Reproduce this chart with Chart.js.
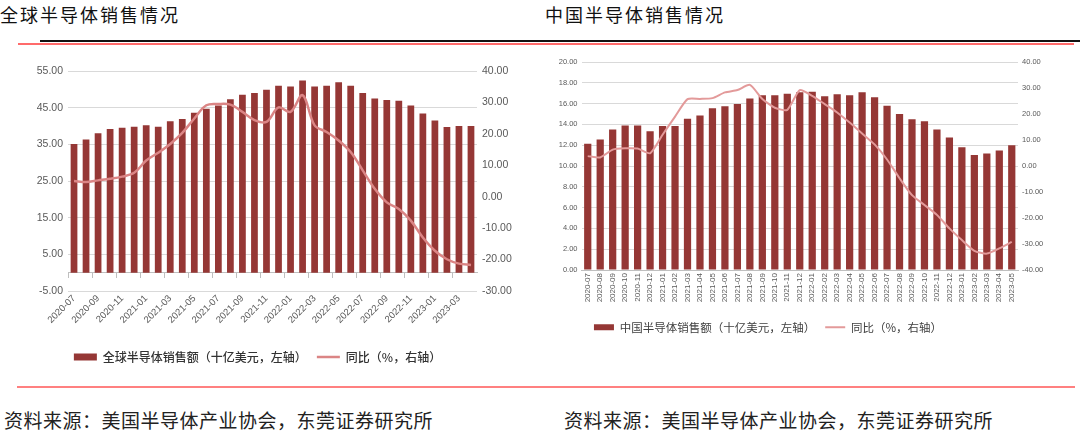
<!DOCTYPE html>
<html>
<head>
<meta charset="utf-8">
<script src="https://cdn.jsdelivr.net/npm/chart.js@4.4.0/dist/chart.umd.min.js"></script>
<style>
  html, body { margin: 0; padding: 0; background: #fff; width: 1080px; height: 435px; overflow: hidden; }
  .abs { position: absolute; }
  .title { font-family: "Noto Sans CJK SC", sans-serif; font-size: 18px; letter-spacing: 2px; color: #111; line-height: 20px; white-space: nowrap; }
  .src { font-family: "Noto Sans CJK SC", serif; font-size: 19px; color: #222; line-height: 22px; white-space: nowrap; letter-spacing: 0.5px; }
</style>
</head>
<body>
<div class="abs title" style="left:0px; top:4px;">全球半导体销售情况</div>
<div class="abs title" style="left:545px; top:4px;">中国半导体销售情况</div>
<div class="abs" style="left:40px; top:40px; width:1040px; height:2px; background:#111;"></div>
<div class="abs" style="left:18px; top:43px; width:1056px; height:2px; background:#FF6B6B;"></div>
<canvas id="c1" class="abs" style="left:-13px; top:50px;" width="541" height="330"></canvas>
<canvas id="c2" class="abs" style="left:483px; top:50px;" width="570" height="300"></canvas>
<div class="abs" style="left:17px; top:386px; width:1058px; height:2px; background:#FF8080;"></div>
<div class="abs src" style="left:4px; top:409px;">资料来源：美国半导体产业协会，东莞证券研究所</div>
<div class="abs src" style="left:564px; top:409px;">资料来源：美国半导体产业协会，东莞证券研究所</div>
<script>
// ---------- Data ----------
const globalMonths = ["2020-07","2020-08","2020-09","2020-10","2020-11","2020-12","2021-01","2021-02","2021-03","2021-04","2021-05","2021-06","2021-07","2021-08","2021-09","2021-10","2021-11","2021-12","2022-01","2022-02","2022-03","2022-04","2022-05","2022-06","2022-07","2022-08","2022-09","2022-10","2022-11","2022-12","2023-01","2023-02","2023-03","2023-04"];
const globalSales = [35.1, 36.3, 38.0, 39.2, 39.5, 39.8, 40.2, 39.8, 41.3, 41.9, 43.6, 44.7, 45.6, 47.3, 48.5, 49.0, 49.9, 51.0, 50.8, 52.4, 50.8, 51.0, 51.9, 51.0, 49.0, 47.5, 47.1, 46.9, 45.6, 43.4, 41.5, 39.7, 40.0, 40.0];
const globalYoY = [5.0, 4.7, 5.2, 5.7, 6.4, 7.6, 11.5, 14.0, 16.8, 20.3, 24.9, 29.1, 29.5, 29.3, 27.0, 24.4, 23.8, 28.4, 27.0, 32.3, 22.7, 20.6, 17.9, 14.2, 8.4, 2.5, -1.8, -3.9, -7.6, -13.0, -17.2, -19.9, -21.3, -21.7];

const chinaMonths = ["2020-07","2020-08","2020-09","2020-10","2020-11","2020-12","2021-01","2021-02","2021-03","2021-04","2021-05","2021-06","2021-07","2021-08","2021-09","2021-10","2021-11","2021-12","2022-01","2022-02","2022-03","2022-04","2022-05","2022-06","2022-07","2022-08","2022-09","2022-10","2022-11","2022-12","2023-01","2023-02","2023-03","2023-04","2023-05"];
const chinaSales = [12.15, 12.55, 13.5, 13.9, 13.9, 13.35, 13.85, 13.85, 14.55, 14.85, 15.55, 15.75, 15.95, 16.5, 16.8, 16.8, 16.95, 17.1, 17.15, 16.7, 16.9, 16.8, 17.1, 16.6, 15.8, 15.0, 14.5, 14.3, 13.5, 12.75, 11.8, 11.05, 11.2, 11.5, 12.0];
const chinaYoY = [3.8, 3.3, 6.3, 6.8, 6.7, 4.9, 12.0, 19.0, 25.7, 25.8, 26.1, 28.3, 29.2, 31.2, 25.8, 22.4, 21.6, 29.2, 27.0, 23.8, 20.6, 16.7, 12.5, 8.3, 2.5, -4.7, -11.2, -15.0, -18.8, -24.0, -28.5, -32.6, -33.7, -31.7, -29.2];

const globalLabels = ["全球半导体销售额（十亿美元，左轴）", "同比（%，右轴）"];
const chinaLabels = ["中国半导体销售额（十亿美元，左轴）", "同比（%，右轴）"];

// ---------- Styles ----------
const BAR = '#953735';
const GRID = '#D9D9D9';
const TICK = '#595959';
const numFont = "'Liberation Sans', Arial, sans-serif";
const cjkFont = "'Noto Sans CJK SC', sans-serif";
Chart.defaults.animation = false;
Chart.defaults.devicePixelRatio = 1;

// ---------- Global chart ----------
new Chart(document.getElementById('c1'), {
  data: {
    labels: globalMonths,
    datasets: [
      { type: 'bar', label: globalLabels[0], data: globalSales, backgroundColor: BAR, yAxisID: 'y',
        barPercentage: 0.56, categoryPercentage: 1.0, order: 2, pointStyle: 'rect' },
      { type: 'line', label: globalLabels[1], data: globalYoY, borderColor: '#DB8585', borderWidth: 2.5,
        pointRadius: 0, tension: 0.35, yAxisID: 'y1', order: 1, pointStyle: 'line' }
    ]
  },
  options: {
    responsive: false,
    layout: { padding: { top: 21, bottom: 7, left: 0, right: 0 } },
    plugins: {
      tooltip: { enabled: false },
      legend: {
        position: 'bottom',
        labels: {
          usePointStyle: true, pointStyleWidth: 23, boxHeight: 7, padding: 10,
          font: { family: cjkFont, size: 12, weight: '500' }, color: '#333333',
          sort: (a, b) => a.datasetIndex - b.datasetIndex
        }
      }
    },
    scales: {
      x: {
        type: 'category', position: 'bottom', offset: true,
        grid: { display: false, drawTicks: false }, border: { display: false },
        ticks: { autoSkip: false, minRotation: 45, maxRotation: 45, padding: 2, color: TICK,
          font: { family: numFont, size: 9.5 },
          callback: function(v, i) { return i % 2 === 0 ? this.getLabelForValue(v) : ''; } },
        afterFit: s => { s.height = 50; }
      },
      x2: {
        type: 'category', position: { y: 0 }, offset: true,
        ticks: { display: false },
        grid: { drawOnChartArea: false, drawTicks: true, tickLength: 5, offset: true,
          color: ctx => (ctx.index % 2 === 0 ? '#BFBFBF' : 'rgba(0,0,0,0)') },
        border: { display: true, color: '#BFBFBF' }
      },
      y: {
        position: 'left', min: -5, max: 55,
        ticks: { stepSize: 10, padding: 5, color: TICK, font: { family: numFont, size: 10.5 },
          callback: v => v.toFixed(2) },
        grid: { color: GRID, drawTicks: false }, border: { display: false },
        afterFit: s => { s.width = 81; }
      },
      y1: {
        position: 'right', min: -30, max: 40,
        ticks: { stepSize: 10, padding: 5, color: TICK, font: { family: numFont, size: 10.5 },
          callback: v => v.toFixed(2) },
        grid: { drawOnChartArea: false, drawTicks: false }, border: { display: false },
        afterFit: s => { s.width = 51; }
      }
    }
  }
});

// ---------- China chart ----------
new Chart(document.getElementById('c2'), {
  data: {
    labels: chinaMonths,
    datasets: [
      { type: 'bar', label: chinaLabels[0], data: chinaSales, backgroundColor: BAR, yAxisID: 'y',
        barPercentage: 0.58, categoryPercentage: 1.0, order: 2, pointStyle: 'rect' },
      { type: 'line', label: chinaLabels[1], data: chinaYoY, borderColor: '#E39A9A', borderWidth: 2,
        pointRadius: 0, tension: 0.2, yAxisID: 'y1', order: 1, pointStyle: 'line' }
    ]
  },
  options: {
    responsive: false,
    layout: { padding: { top: 12, bottom: 7, left: 0, right: 0 } },
    plugins: {
      tooltip: { enabled: false },
      legend: {
        position: 'bottom',
        labels: {
          usePointStyle: true, pointStyleWidth: 20, boxHeight: 6, padding: 10,
          font: { family: cjkFont, size: 11.5 }, color: '#404040',
          sort: (a, b) => a.datasetIndex - b.datasetIndex
        }
      }
    },
    scales: {
      x: {
        type: 'category', position: 'bottom', offset: true,
        grid: { display: false, drawTicks: false }, border: { display: true, color: '#BFBFBF' },
        ticks: { autoSkip: false, minRotation: 90, maxRotation: 90, padding: 3, color: TICK,
          font: { family: numFont, size: 8 } },
        afterFit: s => { s.height = 41.5; }
      },
      y: {
        position: 'left', min: 0, max: 20,
        ticks: { stepSize: 2, padding: 4, color: TICK, font: { family: numFont, size: 7.5 },
          callback: v => v.toFixed(2) },
        grid: { color: GRID, drawTicks: false }, border: { display: false },
        afterFit: s => { s.width = 98.5; }
      },
      y1: {
        position: 'right', min: -40, max: 40,
        ticks: { stepSize: 10, padding: 4, color: TICK, font: { family: numFont, size: 7.5 },
          callback: v => v.toFixed(2) },
        grid: { drawOnChartArea: false, drawTicks: false }, border: { display: false },
        afterFit: s => { s.width = 35; }
      }
    }
  }
});
</script>
</body>
</html>
